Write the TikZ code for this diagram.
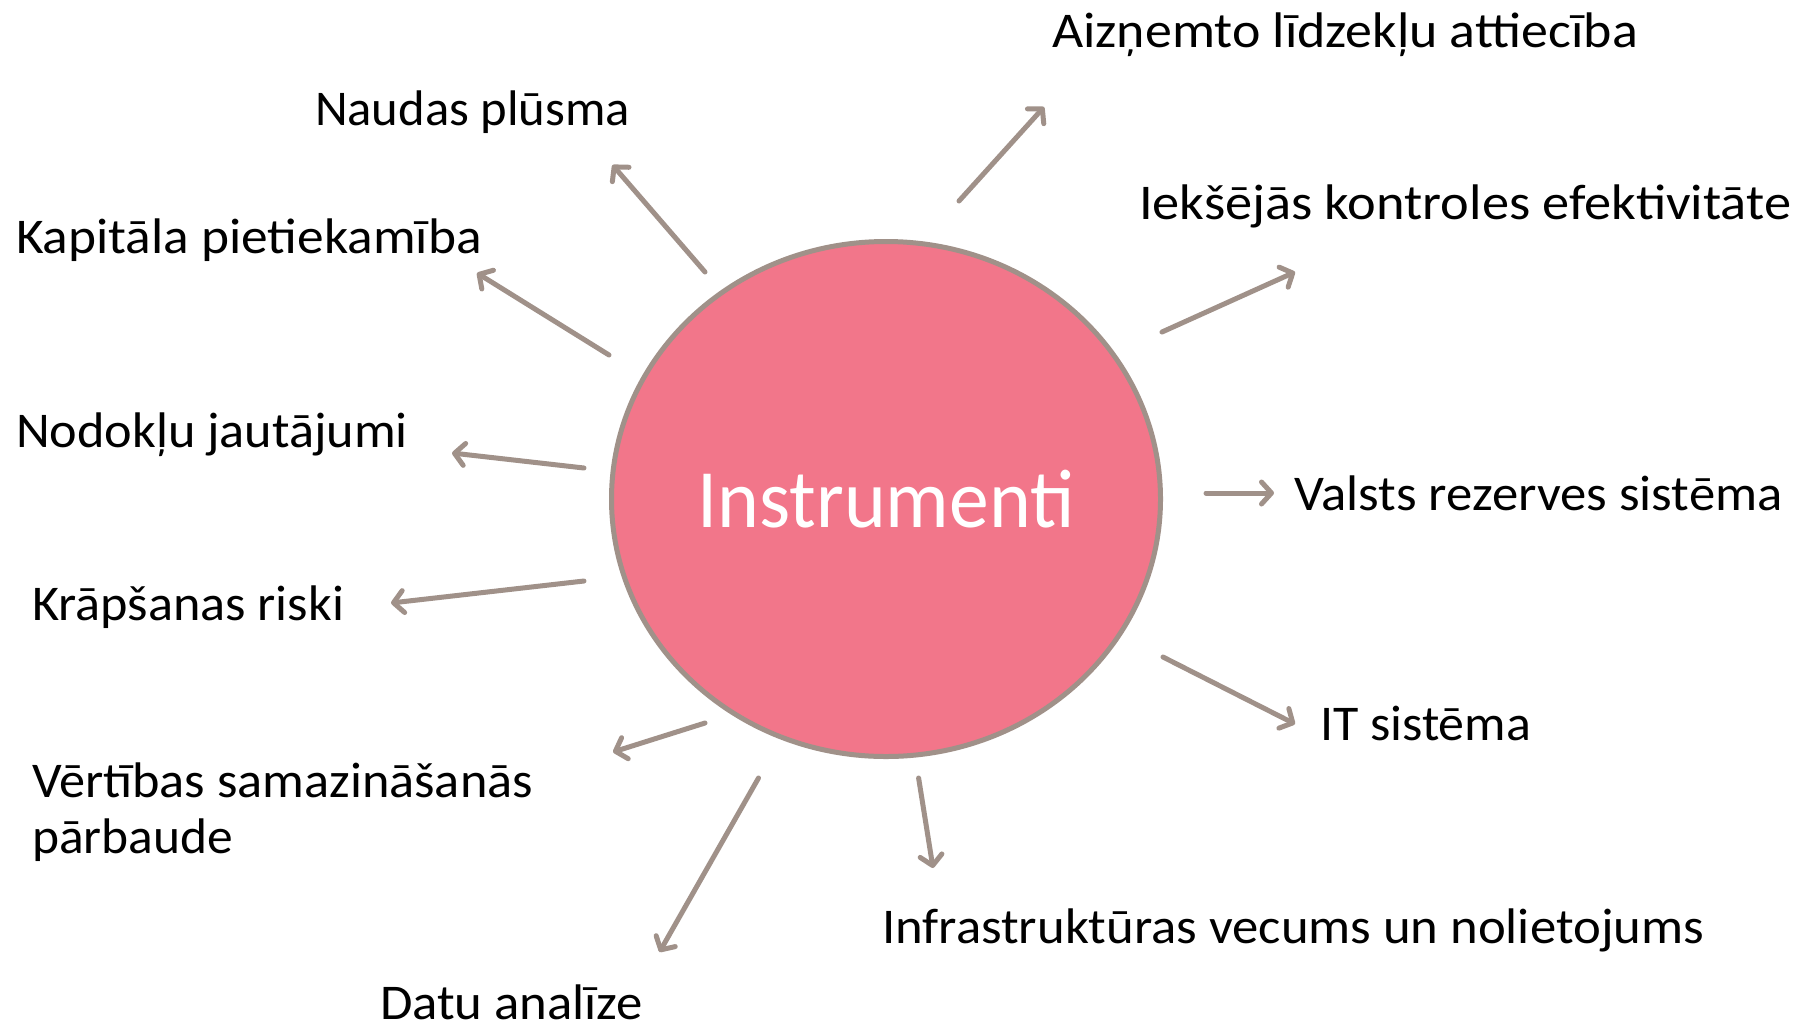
\documentclass[tikz,border=0pt]{standalone}
\usepackage{fontspec}
\setmainfont{Carlito}
\usetikzlibrary{arrows.meta,shapes.geometric}
\definecolor{arr}{RGB}{160,145,137}
\definecolor{pinkfill}{RGB}{242,118,138}
\newcommand{\fitw}[2]{\resizebox{#1pt}{\height}{#2}}
\begin{document}
\begin{tikzpicture}[x=1pt,y=-1pt,
  lbl/.style={anchor=base west,inner sep=0pt,outer sep=0pt,font=\fontsize{50}{56}\selectfont,text=black},
  conn/.style={draw=arr,line width=5pt,line cap=round,
    -{Straight Barb[length=10pt,width=22pt,line cap=round,line join=round]}}]
\useasboundingbox (0,0) rectangle (1795,1021);
\clip (0,0) rectangle (1795,1021);
\fill[white] (0,0) rectangle (1795,1021);

\node[ellipse,draw=arr,line width=5pt,fill=pinkfill,minimum width=549pt,minimum height=515pt,
  inner sep=0pt,text=white,font=\fontsize{83}{90}\selectfont] (c) at (886,499) {\fitw{377}{Instrumenti}};

% labels
\node[lbl] (naudas) at (315,125) {\fitw{315}{Naudas plūsma}};
\node[lbl] (kap) at (16,253) {\fitw{466}{Kapitāla pietiekamība}};
\node[lbl] (nod) at (16,447) {\fitw{392}{Nodokļu jautājumi}};
\node[lbl] (krap) at (32,620) {\fitw{312}{Krāpšanas riski}};
\node[lbl] (vert) at (32,797) {\fitw{501}{Vērtības samazināšanās}};
\node[lbl] (vertb) at (32,853) {\fitw{201}{pārbaude}};
\node[lbl] (datu) at (380,1019) {\fitw{263}{Datu analīze}};
\node[lbl] (infra) at (882,943) {\fitw{822}{Infrastruktūras vecums un nolietojums}};
\node[lbl] (it) at (1320,740) {\fitw{211}{IT sistēma}};
\node[lbl] (valsts) at (1294.5,510) {\fitw{488}{Valsts rezerves sistēma}};
\node[lbl] (aizn) at (1052,47) {\fitw{586}{Aizņemto līdzekļu attiecība}};
\node[lbl] (ieks) at (1139,219) {\fitw{652}{Iekšējās kontroles efektivitāte}};

% connector ends
\coordinate (s1) at (705,272);   \coordinate (e1) at (612.5,165);
\coordinate (s2) at (609,355);   \coordinate (e2) at (477,273);
\coordinate (s3) at (584,468);   \coordinate (e3) at (452,453);
\coordinate (s4) at (584,581);   \coordinate (e4) at (391,603);
\coordinate (s5) at (705,723);   \coordinate (e5) at (613,752);
\coordinate (s6) at (758.5,778); \coordinate (e6) at (659.5,952);
\coordinate (s7) at (918.6,778); \coordinate (e7) at (933,868);
\coordinate (s8) at (1163,657);  \coordinate (e8) at (1295,724);
\coordinate (s9) at (1206,493);  \coordinate (e9) at (1274,493);
\coordinate (s10) at (1162,332); \coordinate (e10) at (1295,272);
\coordinate (s11) at (959,201);  \coordinate (e11) at (1044,107);

\foreach \i in {1,...,11} {\draw[conn] (s\i) -- (e\i);}
\end{tikzpicture}
\end{document}
